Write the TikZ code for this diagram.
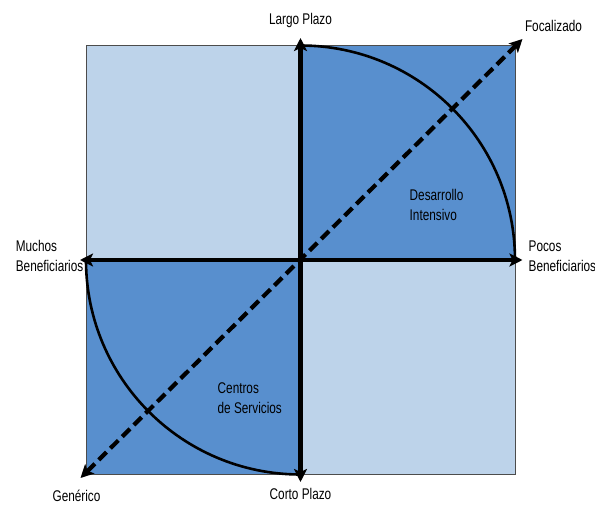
\documentclass[tikz,border=0pt]{standalone}
\usepackage{fontspec}
\setmainfont[FakeStretch=0.76]{Liberation Sans}
\usetikzlibrary{arrows.meta}
\definecolor{azulOsc}{RGB}{88,143,206}
\definecolor{azulCla}{RGB}{189,211,234}

\begin{document}
\begin{tikzpicture}[x=1pt,y=1pt,
    eje/.style={line width=4.5pt,{Stealth[length=13pt,width=13pt,inset=3pt]}-{Stealth[length=13pt,width=13pt,inset=3pt]}},
    diag/.style={line width=4.2pt,dash pattern=on 11pt off 5.5pt,{Stealth[length=13pt,width=13pt,inset=3pt]}-{Stealth[length=13pt,width=13pt,inset=3pt]}},
    etiq/.style={font=\fontsize{15.5}{20.5}\selectfont,align=left,inner sep=0pt}]
    \useasboundingbox (-300.5,-244) rectangle (294.5,260);

    % cuadrantes
    \fill[azulCla] (-214.5,0) rectangle (0,214.5);
    \fill[azulOsc] (0,0) rectangle (214.5,214.5);
    \fill[azulOsc] (-214.5,-214.5) rectangle (0,0);
    \fill[azulCla] (0,-214.5) rectangle (214.5,0);
    \draw[gray!60!black,line width=0.8pt] (-214.5,-214.5) rectangle (214.5,214.5);

    % arcos
    \draw[line width=2.6pt] (0,214.5) arc (90:0:214.5);
    \draw[line width=2.6pt] (-214.5,0) arc (180:270:214.5);

    % ejes
    \coordinate (O) at (0,0);
    \coordinate (N) at (0,222);
    \coordinate (S) at (0,-222);
    \coordinate (W) at (-220.5,0);
    \coordinate (E) at (222,0);
    \coordinate (NE) at (222,221);
    \coordinate (SW) at (-220,-218);
    \draw[eje] (W) -- (E);
    \draw[eje] (S) -- (N);
    \draw[diag] (SW) -- (NE);

    % etiquetas
    \node[etiq] (largo) at (0,240) {Largo Plazo};
    \node[etiq] (corto) at (0,-234) {Corto Plazo};
    \node[etiq] (foco) at (253,234) {Focalizado};
    \node[etiq] (gener) at (-224,-236) {Genérico};
    \node[etiq,anchor=east] (muchos) at (-217,4) {Muchos\\Beneficiarios};
    \node[etiq,anchor=west] (pocos) at (228,4) {Pocos\\Beneficiarios};
    \node[etiq,anchor=west] (desa) at (109,55) {Desarrollo\\Intensivo};
    \node[etiq,anchor=west] (centros) at (-83,-138) {Centros\\de Servicios};
\end{tikzpicture}
\end{document}
